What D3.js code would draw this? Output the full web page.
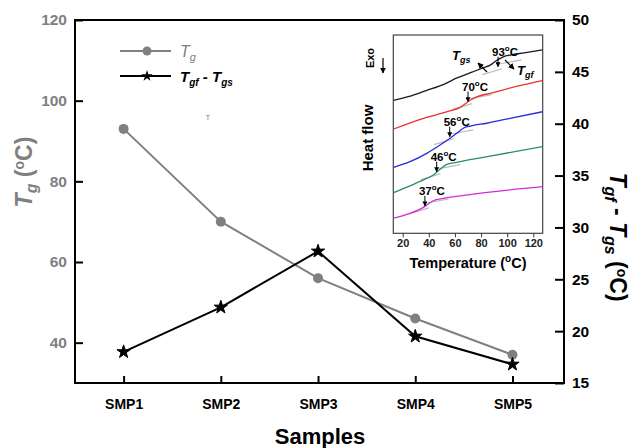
<!DOCTYPE html>
<html>
<head>
<meta charset="utf-8">
<script src="https://cdn.jsdelivr.net/npm/d3@7"></script>
<style>
  body { margin: 0; background: #fff; }
  text { font-family: Arial, "Liberation Sans", sans-serif; }
</style>
</head>
<body>
<script>
// main chart data
var samples = ["SMP1", "SMP2", "SMP3", "SMP4", "SMP5"];
var tgValues = [93, 70, 56, 46, 37];
var deltaValues = [18.0, 22.3, 27.7, 19.5, 16.8];
var leftTicks = [40, 60, 80, 100, 120];
var rightTicks = [15, 20, 25, 30, 35, 40, 45, 50];

// inset DSC curves: [temperature, heat flow (a.u.)]
var dscSmp1 = [[13, 67], [25, 69], [38, 72], [51, 75], [62, 78.5], [72, 81], [82, 83.5], [87, 84.8], [92, 87.2], [97, 89], [103, 90], [113, 91], [127, 92.5]];
var dscSmp2 = [[13, 52.6], [36, 58], [54, 61.3], [64, 63.5], [72, 67.2], [77, 68.9], [87, 70.6], [112, 74.8], [127, 77]];
var dscSmp3 = [[13, 33.3], [25.6, 36.1], [38.4, 40.3], [48.6, 44.5], [56.2, 47.9], [61.3, 50.4], [66.4, 53], [71.6, 54.1], [84.3, 55.5], [102.2, 58], [127, 61.3]];
var dscSmp4 = [[13, 20.5], [25.6, 23.9], [35.8, 26.9], [43.4, 29.4], [48.6, 32.3], [53.7, 34.8], [61.3, 35.8], [81.7, 38.3], [127, 43.7]];
var dscSmp5 = [[13, 7.6], [25.6, 10.1], [35.8, 13.1], [39.6, 14.8], [43.4, 16.4], [51.1, 17.6], [74.1, 19.8], [127, 23.5]];
var dscColors = ["#1a1a1a", "#e8312c", "#2a2ad8", "#2a8a7a", "#d62ad6"];
var dscTg = [93, 70, 56, 46, 37];
var dscTip = [84, 66.4, 48.7, 31.1, 13.8];
var insetTicks = [20, 40, 60, 80, 100, 120];

var W = 634, H = 448;
var gray = "#808080";

var svg = d3.select("body").append("svg")
  .attr("width", W).attr("height", H);

var x = d3.scaleLinear().domain([-0.5, 4.53]).range([75, 564]);
var yL = d3.scaleLinear().domain([30, 120]).range([383, 20]);
var yR = d3.scaleLinear().domain([15, 50]).range([383, 20]);

// frame
svg.append("rect")
  .attr("x", 75).attr("y", 20).attr("width", 489).attr("height", 363)
  .attr("fill", "none").attr("stroke", "#000").attr("stroke-width", 2);

// left axis
var gL = svg.append("g").attr("transform", "translate(75,0)")
  .call(d3.axisLeft(yL).tickValues(leftTicks).tickSize(-8).tickPadding(8));
gL.select(".domain").remove();
gL.selectAll(".tick line").attr("stroke", "#000").attr("stroke-width", 2);
gL.selectAll(".tick text").attr("fill", gray).style("font-size", "15.5px").style("font-weight", "bold")
  .style("font-family", "Arial, 'Liberation Sans', sans-serif");

// right axis
var gR = svg.append("g").attr("transform", "translate(564,0)")
  .call(d3.axisRight(yR).tickValues(rightTicks).tickSize(-9).tickPadding(8));
gR.select(".domain").remove();
gR.selectAll(".tick line").attr("stroke", "#000").attr("stroke-width", 2);
gR.selectAll(".tick text").attr("fill", "#000").style("font-size", "15.5px").style("font-weight", "bold")
  .style("font-family", "Arial, 'Liberation Sans', sans-serif");

// bottom axis
var gB = svg.append("g").attr("transform", "translate(0,383)")
  .call(d3.axisBottom(x).tickValues(d3.range(samples.length)).tickFormat(function(i) { return samples[i]; })
    .tickSize(-7).tickPadding(16));
gB.select(".domain").remove();
gB.selectAll(".tick line").attr("stroke", "#000").attr("stroke-width", 2);
gB.selectAll(".tick text").attr("fill", "#000").style("font-size", "14px").style("font-weight", "bold")
  .style("font-family", "Arial, 'Liberation Sans', sans-serif");

// axis titles
svg.append("text").attr("x", 320).attr("y", 444).attr("text-anchor", "middle")
  .style("font-size", "22px").style("font-weight", "bold").text("Samples");

var tl = svg.append("text").attr("transform", "translate(32,172) rotate(-90)")
  .attr("text-anchor", "middle").attr("fill", gray)
  .style("font-size", "23px").style("font-weight", "bold");
tl.append("tspan").style("font-style", "italic").text("T");
tl.append("tspan").style("font-style", "italic").style("font-size", "16px").attr("dy", 5).text("g");
tl.append("tspan").attr("dy", -5).text(" (");
tl.append("tspan").style("font-size", "14px").attr("dy", -8).text("o");
tl.append("tspan").attr("dy", 8).text("C)");

var tr = svg.append("text").attr("transform", "translate(610,237) rotate(90)")
  .attr("text-anchor", "middle").attr("fill", "#000")
  .style("font-size", "23px").style("font-weight", "bold");
tr.append("tspan").style("font-style", "italic").text("T");
tr.append("tspan").style("font-style", "italic").style("font-size", "16px").attr("dy", 5).text("gf");
tr.append("tspan").attr("dy", -5).text(" - ");
tr.append("tspan").style("font-style", "italic").text("T");
tr.append("tspan").style("font-style", "italic").style("font-size", "16px").attr("dy", 5).text("gs");
tr.append("tspan").attr("dy", -5).text(" (");
tr.append("tspan").style("font-size", "14px").attr("dy", -7).text("o");
tr.append("tspan").attr("dy", 7).text("C)");

// series lines
var lineTg = d3.line().x(function(d, i) { return x(i); }).y(function(d) { return yL(d); });
var lineD = d3.line().x(function(d, i) { return x(i); }).y(function(d) { return yR(d); });

svg.append("path").datum(tgValues).attr("d", lineTg)
  .attr("fill", "none").attr("stroke", gray).attr("stroke-width", 2);
svg.selectAll(".tgdot").data(tgValues).enter().append("circle")
  .attr("cx", function(d, i) { return x(i); }).attr("cy", function(d) { return yL(d); })
  .attr("r", 5).attr("fill", gray);

svg.append("path").datum(deltaValues).attr("d", lineD)
  .attr("fill", "none").attr("stroke", "#000").attr("stroke-width", 2);
var star = d3.symbol().type(d3.symbolStar).size(55);
svg.selectAll(".star").data(deltaValues).enter().append("path")
  .attr("d", star)
  .attr("transform", function(d, i) { return "translate(" + x(i) + "," + yR(d) + ")"; })
  .attr("fill", "#000").attr("stroke", "#000").attr("stroke-width", 1);

// legend
svg.append("line").attr("x1", 120).attr("x2", 171).attr("y1", 51).attr("y2", 51)
  .attr("stroke", gray).attr("stroke-width", 2);
svg.append("circle").attr("cx", 147).attr("cy", 51).attr("r", 4.5).attr("fill", gray);
var lt1 = svg.append("text").attr("x", 180).attr("y", 57).attr("fill", gray)
  .style("font-size", "16px").style("font-style", "italic");
lt1.append("tspan").text("T");
lt1.append("tspan").style("font-size", "11px").attr("dy", 4).text("g");

svg.append("line").attr("x1", 120).attr("x2", 171).attr("y1", 76).attr("y2", 76)
  .attr("stroke", "#000").attr("stroke-width", 2);
svg.append("path").attr("d", d3.symbol().type(d3.symbolStar).size(40))
  .attr("transform", "translate(147,76)").attr("fill", "#000");
var lt2 = svg.append("text").attr("x", 180).attr("y", 82).attr("fill", "#000")
  .style("font-size", "15px").style("font-style", "italic").style("font-weight", "bold");
lt2.append("tspan").text("T");
lt2.append("tspan").style("font-size", "10px").attr("dy", 4).text("gf");
lt2.append("tspan").attr("dy", -4).text(" - ");
lt2.append("tspan").text("T");
lt2.append("tspan").style("font-size", "10px").attr("dy", 4).text("gs");

// stray small mark
svg.append("text").attr("x", 208).attr("y", 120).attr("text-anchor", "middle")
  .attr("fill", "#777").style("font-size", "7px").text("T");

// ---------- inset ----------
var ix = d3.scaleLinear().domain([12.8, 127.2]).range([393.3, 542.7]);
var iy = d3.scaleLinear().domain([0, 100]).range([233.3, 35]);

var defs = svg.append("defs");
defs.append("marker").attr("id", "ah").attr("viewBox", "0 0 10 10")
  .attr("refX", 9).attr("refY", 5).attr("markerWidth", 5).attr("markerHeight", 5)
  .attr("orient", "auto-start-reverse")
  .append("path").attr("d", "M0,0L10,5L0,10Z").attr("fill", "#000");

var inset = svg.append("g");
inset.append("rect").attr("x", 393.3).attr("y", 35).attr("width", 149.4).attr("height", 198.3)
  .attr("fill", "#fff").attr("stroke", "#444").attr("stroke-width", 1.2);

var gI = inset.append("g").attr("transform", "translate(0,233.3)")
  .call(d3.axisBottom(ix).tickValues(insetTicks).tickSize(4).tickPadding(2));
gI.select(".domain").remove();
gI.selectAll(".tick line").attr("stroke", "#333");
gI.selectAll(".tick text").attr("fill", "#222").style("font-size", "11px").style("font-weight", "bold")
  .style("font-family", "Arial, 'Liberation Sans', sans-serif");

var it = inset.append("text").attr("x", 468).attr("y", 268).attr("text-anchor", "middle")
  .style("font-size", "14.5px").style("font-weight", "bold");
it.append("tspan").text("Temperature (");
it.append("tspan").style("font-size", "10px").attr("dy", -6).text("o");
it.append("tspan").attr("dy", 6).text("C)");

inset.append("text").attr("transform", "translate(373,138) rotate(-90)").attr("text-anchor", "middle")
  .style("font-size", "15px").style("font-weight", "bold").text("Heat flow");
inset.append("text").attr("transform", "translate(374,58) rotate(-90)").attr("text-anchor", "middle")
  .style("font-size", "11px").style("font-weight", "bold").text("Exo");
inset.append("line").attr("x1", 383).attr("x2", 383).attr("y1", 58).attr("y2", 73)
  .attr("stroke", "#000").attr("stroke-width", 1.2).attr("marker-end", "url(#ah)");

var curves = [dscSmp1, dscSmp2, dscSmp3, dscSmp4, dscSmp5];
var dline = d3.line().x(function(d) { return ix(d[0]); }).y(function(d) { return iy(d[1]); })
  .curve(d3.curveMonotoneX);

// gray tangent lines near each transition
curves.forEach(function(c, k) {
  var t = dscTg[k], v = dscTip[k];
  inset.append("line").attr("x1", ix(t - 12)).attr("y1", iy(v - 4)).attr("x2", ix(t + 3)).attr("y2", iy(v - 1))
    .attr("stroke", "#bbb").attr("stroke-width", 1.2);
  inset.append("line").attr("x1", ix(t + 2)).attr("y1", iy(v + 1.5)).attr("x2", ix(t + 18)).attr("y2", iy(v + 3.5))
    .attr("stroke", "#bbb").attr("stroke-width", 1.2);
});

curves.forEach(function(c, k) {
  inset.append("path").datum(c).attr("d", dline)
    .attr("fill", "none").attr("stroke", dscColors[k]).attr("stroke-width", 1.3);
});

// Tg arrows and labels
dscTg.forEach(function(t, k) {
  var px = ix(t), tip = iy(dscTip[k]);
  inset.append("line").attr("x1", px).attr("x2", px).attr("y1", tip - 10).attr("y2", tip)
    .attr("stroke", "#000").attr("stroke-width", 1).attr("marker-end", "url(#ah)");
  var lab = inset.append("text").attr("x", px - 6).attr("y", tip - 11)
    .style("font-size", "11.5px").style("font-weight", "bold");
  lab.append("tspan").text(t);
  lab.append("tspan").style("font-size", "8px").attr("dy", -5).text("o");
  lab.append("tspan").attr("dy", 5).text("C");
});

// Tgs / Tgf callouts
var tgs = inset.append("text").attr("x", 452).attr("y", 60)
  .style("font-size", "13px").style("font-weight", "bold").style("font-style", "italic");
tgs.append("tspan").text("T");
tgs.append("tspan").style("font-size", "9px").attr("dy", 3).text("gs");
inset.append("line").attr("x1", 487).attr("y1", 72).attr("x2", 478).attr("y2", 63)
  .attr("stroke", "#000").attr("stroke-width", 1.2).attr("marker-end", "url(#ah)");

var tgf = inset.append("text").attr("x", 517).attr("y", 75)
  .style("font-size", "13px").style("font-weight", "bold").style("font-style", "italic");
tgf.append("tspan").text("T");
tgf.append("tspan").style("font-size", "9px").attr("dy", 3).text("gf");
inset.append("line").attr("x1", 505).attr("y1", 60).attr("x2", 514).attr("y2", 69)
  .attr("stroke", "#000").attr("stroke-width", 1.2).attr("marker-end", "url(#ah)");
</script>
</body>
</html>
